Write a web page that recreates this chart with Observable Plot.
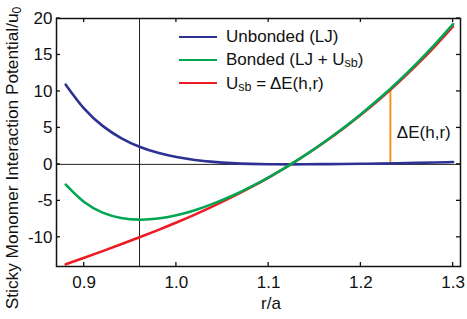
<!DOCTYPE html>
<html><head><meta charset="utf-8">
<script src="https://cdn.jsdelivr.net/npm/d3@7"></script>
<script src="https://cdn.jsdelivr.net/npm/@observablehq/plot@0.6"></script>
<style>
body{margin:0;background:#fff;}
#wrap{position:relative;width:467px;height:319px;font-family:"Liberation Sans",Arial,Helvetica,sans-serif;color:#111;}
#legend{position:absolute;left:179px;top:25px;font-size:17px;line-height:23.3px;}
#legend .row{display:flex;align-items:center;height:23.3px;white-space:pre;}
#legend .sw{display:inline-block;width:38px;height:0;border-top:2.6px solid;margin-right:9px;}
#legend .sub{font-size:12.5px;position:relative;top:4px;}
</style></head><body><div id="wrap"></div>
<script>
const r = [0.88,0.90,0.92,0.94,0.96,0.98,1.00,1.02,1.04,1.06,1.08,1.10,1.12,1.14,1.16,1.18,1.20,1.22,1.24,1.26,1.28,1.30];
const unbonded = [10.93,7.64,5.28,3.61,2.42,1.58,1.00,0.60,0.34,0.17,0.07,0.02,0.00,0.01,0.03,0.05,0.08,0.11,0.15,0.20,0.26,0.32];
const sticky = [-13.70,-12.80,-11.89,-10.96,-10.00,-9.01,-7.97,-6.88,-5.72,-4.50,-3.19,-1.80,-0.31,1.29,3.00,4.83,6.80,8.91,11.16,13.58,16.16,18.92];
const bonded = [-2.77,-5.16,-6.61,-7.35,-7.58,-7.43,-6.97,-6.28,-5.38,-4.33,-3.12,-1.78,-0.31,1.30,3.03,4.88,6.88,9.02,11.31,13.78,16.42,19.24];
const xTicks = [0.9,1.0,1.1,1.2,1.3];
const yTicks = [-10,-5,0,5,10,15,20];
const xDomain = [0.87,1.308];
const yDomain = [-14,20];
const refR = 0.96;
const refU = 0;
const deltaR = 1.232, deltaLow = 0.15, deltaHigh = 10.2;
const deltaLabel = "ΔE(h,r)", deltaLabelR = 1.239, deltaLabelU = 4.4;
const colors = {unbonded:"#2e3192", bonded:"#00a651", sticky:"#ed1c24", delta:"#f7941d"};

const rows = r.map((x,i)=>({r:x, unbonded:unbonded[i], bonded:bonded[i], sticky:sticky[i]}));
const W = 467, H = 319, mL = 56, mR = 7, mT = 18, mB = 53;
const font = '"Liberation Sans",Arial,Helvetica,sans-serif';

const chart = Plot.plot({
  width: W, height: H,
  marginLeft: mL, marginRight: mR, marginTop: mT, marginBottom: mB,
  style: {fontFamily: font, fontSize: "17px", color: "#111", background: "#fff"},
  x: {domain: xDomain, ticks: xTicks, tickFormat: d => d.toFixed(1), tickSize: 0, tickPadding: 9, label: null},
  y: {domain: yDomain, ticks: yTicks, tickFormat: d => String(d), tickSize: 0, tickPadding: 4, label: null},
  marks: [
    Plot.ruleY([refU], {stroke: "#222", strokeWidth: 1}),
    Plot.ruleX([refR], {stroke: "#222", strokeWidth: 1}),
    Plot.ruleX([deltaR], {y1: deltaLow, y2: deltaHigh, stroke: colors.delta, strokeWidth: 2}),
    Plot.line(rows, {x: "r", y: "unbonded", stroke: colors.unbonded, strokeWidth: 2.6, curve: "natural"}),
    Plot.line(rows, {x: "r", y: "sticky", stroke: colors.sticky, strokeWidth: 2.6, curve: "natural"}),
    Plot.line(rows, {x: "r", y: "bonded", stroke: colors.bonded, strokeWidth: 2.6, curve: "natural"}),
    Plot.text([deltaLabel], {x: deltaLabelR, y: deltaLabelU, text: d => d, textAnchor: "start", fontSize: 17, fill: "#111"}),
    Plot.frame({stroke: "#111", strokeWidth: 1.5})
  ]
});

const svg = d3.select(chart);
const sx = chart.scale("x"), sy = chart.scale("y");
const x0 = sx.range[0], x1 = sx.range[1], y0 = sy.range[0], y1 = sy.range[1];
const g = svg.append("g").attr("stroke", "#111").attr("stroke-width", 1.3);
const tl = 4;
xTicks.forEach(t => {
  const px = sx.apply(t);
  g.append("line").attr("x1", px).attr("x2", px).attr("y1", y0).attr("y2", y0 - tl);
  g.append("line").attr("x1", px).attr("x2", px).attr("y1", y1).attr("y2", y1 + tl);
});
yTicks.forEach(t => {
  const py = sy.apply(t);
  g.append("line").attr("y1", py).attr("y2", py).attr("x1", x0).attr("x2", x0 + tl);
  g.append("line").attr("y1", py).attr("y2", py).attr("x1", x1).attr("x2", x1 - tl);
});
svg.append("text").attr("x", 271).attr("y", 309).attr("text-anchor", "middle")
  .attr("font-family", font).attr("font-size", 17).attr("fill", "#111").text("r/a");
const yl = svg.append("text").attr("transform", "translate(18,158) rotate(-90)").attr("text-anchor", "middle")
  .attr("font-family", font).attr("font-size", 17.3).attr("fill", "#111");
yl.append("tspan").text("Sticky Monomer Interaction Potential/u");
yl.append("tspan").attr("font-size", 12).attr("dy", 3).text("0");

const wrap = document.getElementById("wrap");
wrap.appendChild(chart);
const legend = document.createElement("div");
legend.id = "legend";
legend.innerHTML =
  `<div class="row"><span class="sw" style="border-color:${colors.unbonded}"></span>Unbonded (LJ)</div>` +
  `<div class="row"><span class="sw" style="border-color:${colors.bonded}"></span>Bonded (LJ + U<span class="sub">sb</span>)</div>` +
  `<div class="row"><span class="sw" style="border-color:${colors.sticky}"></span>U<span class="sub">sb</span> = ΔE(h,r)</div>`;
wrap.appendChild(legend);
</script></body></html>
